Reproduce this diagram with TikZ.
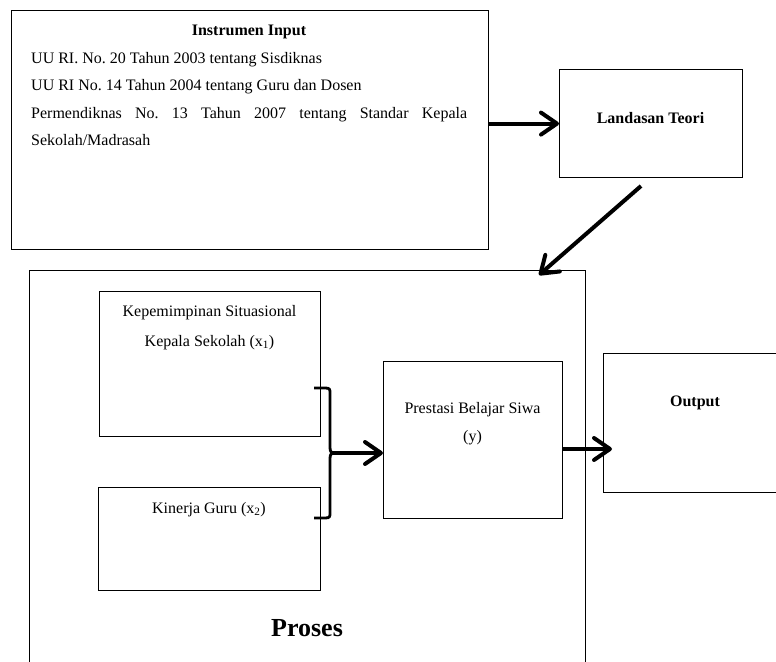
\documentclass[tikz,border=0pt]{standalone}
\usepackage{fontspec}
\setmainfont{Liberation Serif}
\usetikzlibrary{arrows.meta}
\frenchspacing
\begin{document}
\begin{tikzpicture}[x=1bp,y=-1bp,
  box/.style={draw=black, line width=1.2bp, inner sep=0pt, anchor=north west},
  txt/.style={font=\fontsize{16bp}{19bp}\selectfont\frenchspacing, inner sep=0pt, anchor=base},
  txtl/.style={txt, anchor=base west},
  bold/.style={font=\fontsize{16bp}{19bp}\selectfont\bfseries, inner sep=0pt, anchor=base},
  big/.style={font=\fontsize{26bp}{30bp}\selectfont\bfseries, inner sep=0pt, anchor=base},
  arr/.style={line width=4bp, -{Straight Barb[length=16bp,width=22bp,round]}},
  brc/.style={line width=2.8bp, line join=round}]
\useasboundingbox (0,0) rectangle (776,662);
% Input
\node[box, minimum width=477bp, minimum height=239bp] (inp) at (11,10) {};
\node[bold] (inpt) at (249,36) {Instrumen Input};
\node[txtl] (l1) at (31,64) {UU RI. No. 20 Tahun 2003 tentang Sisdiknas};
\node[txtl] (l2) at (31,91) {UU RI No. 14 Tahun 2004 tentang Guru dan Dosen};
\node[txtl] (l3) at (31,118.3) {\makebox[436bp][s]{Permendiknas No. 13 Tahun 2007 tentang Standar Kepala}};
\node[txtl] (l4) at (31,145.7) {Sekolah/Madrasah};
% Landasan
\node[box, minimum width=183bp, minimum height=108bp] (land) at (559,69) {};
\node[bold] (landt) at (650.5,123.3) {Landasan Teori};
% Proses
\node[box, minimum width=556bp, minimum height=450bp] (pros) at (29,270) {};
\node[big] (prost) at (307,636.7) {Proses};
% Kepemimpinan
\node[box, minimum width=221bp, minimum height=145bp] (kep) at (99,291) {};
\node[txt] (kep1) at (209.5,316.7) {Kepemimpinan Situasional};
\node[txt] (kep2) at (209.5,346) {Kepala Sekolah (x\textsubscript{1})};
% Kinerja
\node[box, minimum width=222bp, minimum height=103bp] (kin) at (98,487) {};
\node[txt] (kint) at (209,513) {Kinerja Guru (x\textsubscript{2})};
% Prestasi
\node[box, minimum width=179bp, minimum height=157bp] (pres) at (383,361) {};
\node[txt] (pres1) at (472.5,413) {Prestasi Belajar Siwa};
\node[txt] (pres2) at (472.5,441) {(y)};
% Output
\node[box, minimum width=184bp, minimum height=139bp] (out) at (603,353) {};
\node[bold] (outt) at (695,406) {Output};
% Arrows
\draw[arr] (inp.east |- land.west) -- (land.west);
\coordinate (d1) at (641,186);
\coordinate (d2) at (539,275);
\draw[arr] (d1) -- (d2);
% Brace
\coordinate (bt) at (314,388);
\coordinate (bb) at (314,518);
\coordinate (bm) at (333,453);
\draw[brc] (bt) -- (325,388) .. controls (330,388) and (330,389) .. (330,394)
  -- (330,447) .. controls (330,451) and (331,453) .. (bm)
  .. controls (331,453) and (330,455) .. (330,459)
  -- (330,512) .. controls (330,517) and (330,518) .. (325,518) -- (bb);
\draw[arr] (bm) -- (bm -| pres.west);
\coordinate (ot) at (612,449);
\draw[arr] (pres.east |- ot) -- (ot);
\end{tikzpicture}
\end{document}
